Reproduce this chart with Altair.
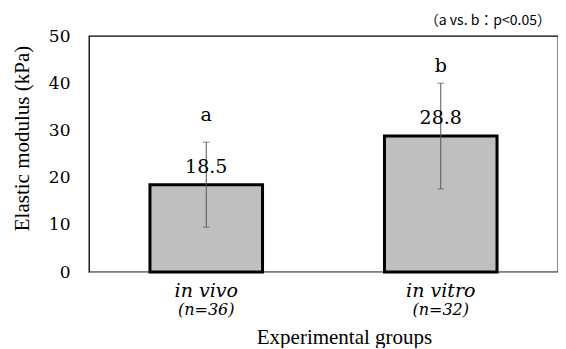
import altair as alt
import pandas as pd

groups = ["in vivo", "in vitro"]
n_labels = ["(n=36)", "(n=32)"]
means = [18.5, 28.8]
errs = [9.0, 11.2]
letters = ["a", "b"]
value_text = ["18.5", "28.8"]
y_ticks = [0, 10, 20, 30, 40, 50]
note = "（a vs. b：p<0.05）"

df = pd.DataFrame({
    "group": groups,
    "n": n_labels,
    "mean": means,
    "lo": [m - e for m, e in zip(means, errs)],
    "hi": [m + e for m, e in zip(means, errs)],
    "letter": letters,
    "vtext": value_text,
})

SERIF = "DejaVu Serif"
TSERIF = "Liberation Serif"
W, H = 469, 236

x = alt.X("group:N", sort=groups,
          scale=alt.Scale(paddingInner=0.52, paddingOuter=0.26),
          axis=alt.Axis(labels=False, ticks=False, domainColor="#9a9a9a",
                        title="Experimental groups", titleFont=TSERIF,
                        titleFontSize=21, titleFontWeight="normal",
                        titleColor="black", titleX=255, titleY=65,
                        titleBaseline="middle", titleAlign="center"))
y = alt.Y("mean:Q",
          scale=alt.Scale(domain=[0, 50]),
          axis=alt.Axis(values=y_ticks, grid=False, ticks=False, domain=False,
                        labelFont=SERIF, labelFontSize=17, labelColor="black",
                        labelPadding=19,
                        title="Elastic modulus (kPa)", titleFont=TSERIF,
                        titleFontSize=21, titleFontWeight="normal",
                        titleColor="black", titleX=-67, titleY=102,
                        titleAngle=-90, titleBaseline="middle", titleAlign="center"))

base = alt.Chart(df)

bars = base.mark_bar(color="#bfbfbf", stroke="black", strokeWidth=3).encode(x=x, y=y)

rule = base.mark_rule(color="#555555", strokeWidth=1).encode(
    x=alt.X("group:N", sort=groups), y="lo:Q", y2="hi:Q")
cap_lo = base.mark_tick(color="#555555", thickness=1, size=7, orient="horizontal").encode(
    x=alt.X("group:N", sort=groups), y="lo:Q")
cap_hi = base.mark_tick(color="#555555", thickness=1, size=7, orient="horizontal").encode(
    x=alt.X("group:N", sort=groups), y="hi:Q")

vlabels = base.mark_text(font=SERIF, fontSize=19, dy=-18, baseline="middle").encode(
    x=alt.X("group:N", sort=groups), y="mean:Q", text="vtext:N")
letter_labels = base.mark_text(font=SERIF, fontSize=19, dy=-70, baseline="middle").encode(
    x=alt.X("group:N", sort=groups), y="mean:Q", text="letter:N")

glabels = base.mark_text(font=SERIF, fontSize=19, fontStyle="italic",
                         baseline="middle").encode(
    x=alt.X("group:N", sort=groups), y=alt.value(255), text="group:N")
nlabels = base.mark_text(font=SERIF, fontSize=16, fontStyle="italic",
                         baseline="middle").encode(
    x=alt.X("group:N", sort=groups), y=alt.value(274), text="n:N")

note_df = pd.DataFrame({"t": [note]})
note_mark = alt.Chart(note_df).mark_text(font="Noto Sans CJK JP", fontSize=14,
                                         align="right", baseline="middle").encode(
    x=alt.value(W - 7), y=alt.value(-15), text="t:N")

chart = alt.layer(bars, rule, cap_lo, cap_hi, vlabels, letter_labels,
                  glabels, nlabels, note_mark).properties(
    width=W, height=H,
    autosize=alt.AutoSizeParams(type="none"),
    padding={"left": 81, "top": 28, "right": 0, "bottom": 76},
).configure_view(stroke="black", strokeWidth=1.3)

chart.save("out.html", embed_options={"renderer": "svg", "actions": False})
